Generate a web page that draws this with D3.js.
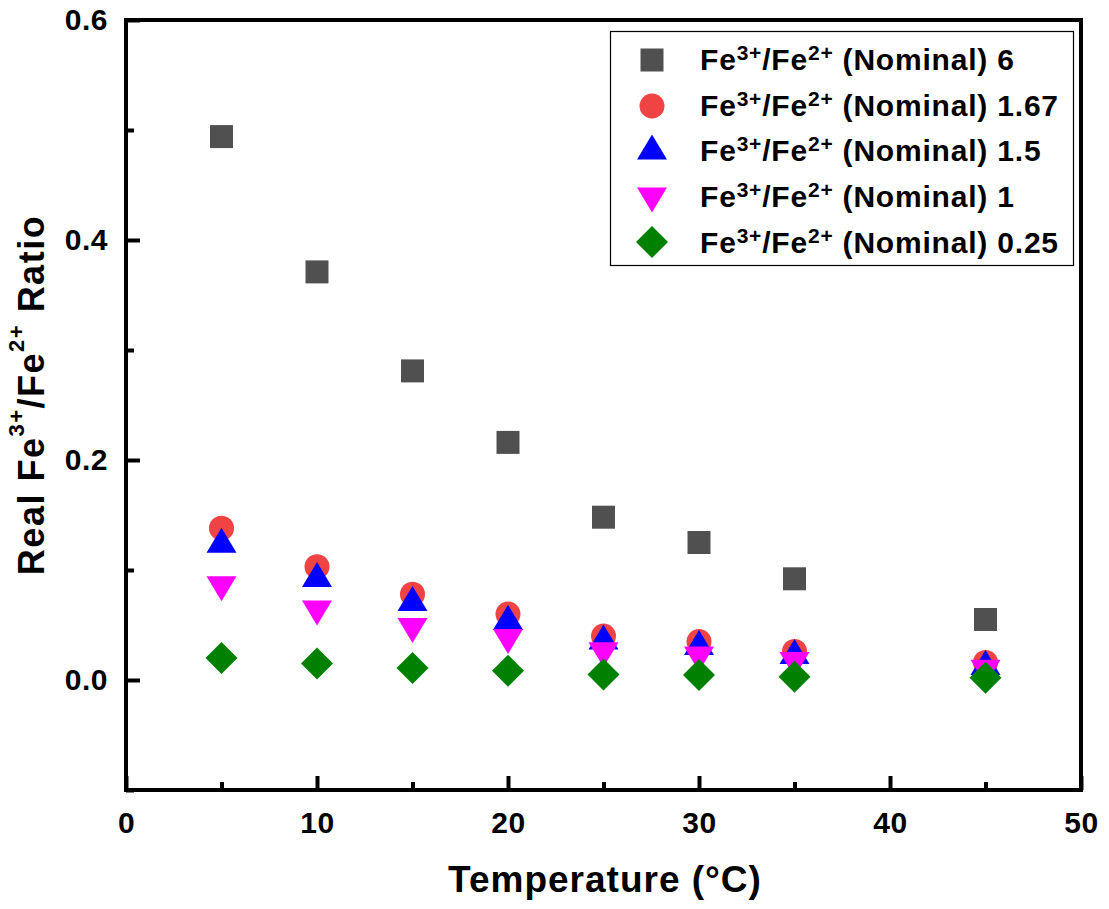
<!DOCTYPE html>
<html>
<head>
<meta charset="utf-8">
<script src="https://cdn.jsdelivr.net/npm/d3@7"></script>
<style>
  body { margin: 0; background: #fff; }
  text { font-family: "Liberation Sans", Arial, sans-serif; font-weight: bold; }
</style>
</head>
<body>
<svg id="chart"></svg>
<script>
// temperatures (°C)
var temps = [5, 10, 15, 20, 25, 30, 35, 45];

// real Fe3+/Fe2+ ratio, one array per nominal ratio
var nominal6    = [0.494, 0.371, 0.281, 0.216, 0.148, 0.125, 0.092, 0.055];
var nominal167  = [0.138, 0.103, 0.078, 0.060, 0.040, 0.035, 0.026, 0.016];
var nominal15   = [0.127, 0.096, 0.074, 0.057, 0.039, 0.034, 0.026, 0.016];
var nominal1    = [0.083, 0.061, 0.045, 0.035, 0.023, 0.019, 0.014, 0.007];
var nominal025  = [0.020, 0.015, 0.011, 0.0085, 0.005, 0.0045, 0.003, 0.002];

var legendNames = ["6", "1.67", "1.5", "1", "0.25"];

var xTicks = [0, 10, 20, 30, 40, 50];
var xMinor = [5, 15, 25, 35, 45];
var yTicks = [0.0, 0.2, 0.4, 0.6];
var yMinor = [-0.1, 0.1, 0.3, 0.5];

var screen = {width: 1109, height: 909};
var svg = d3.select("#chart")
  .attr("width", screen.width)
  .attr("height", screen.height);

var x = d3.scaleLinear().domain([0, 50]).range([126, 1081]);
var y = d3.scaleLinear().domain([-0.1, 0.6]).range([790, 20]);

// marker shapes, centred on bounding box
var shapes = {
  square: function(s) { var h = s / 2; return "M" + (-h) + "," + (-h) + "h" + s + "v" + s + "h" + (-s) + "Z"; },
  circle: function(s) { var r = s / 2; return "M" + (-r) + ",0a" + r + "," + r + " 0 1,0 " + s + ",0a" + r + "," + r + " 0 1,0 " + (-s) + ",0Z"; },
  up: function(s) { var w = s * 1.2 / 2, h = s / 2; return "M0," + (-h) + "L" + w + "," + h + "L" + (-w) + "," + h + "Z"; },
  down: function(s) { var w = s * 1.2 / 2, h = s / 2; return "M0," + h + "L" + w + "," + (-h) + "L" + (-w) + "," + (-h) + "Z"; },
  diamond: function(s) { var h = s / 2; return "M0," + (-h) + "L" + h + ",0L0," + h + "L" + (-h) + ",0Z"; }
};

var series = [
  {vals: nominal6,   shape: "square",  size: 23, color: "#505050"},
  {vals: nominal167, shape: "circle",  size: 25, color: "#F04343"},
  {vals: nominal15,  shape: "up",      size: 25, color: "#0000FF"},
  {vals: nominal1,   shape: "down",    size: 25, color: "#FF00FF"},
  {vals: nominal025, shape: "diamond", size: 32, color: "#008000"}
];

// ticks (inward)
var gx = svg.append("g").attr("transform", "translate(0," + y(-0.1) + ")");
gx.call(d3.axisBottom(x).tickValues(xTicks).tickSize(-14).tickFormat(d3.format("d")));
gx.append("g").call(d3.axisBottom(x).tickValues(xMinor).tickSize(-8).tickFormat(""));
gx.selectAll(".domain").remove();
gx.selectAll("line").attr("stroke", "#000").attr("stroke-width", 4);
gx.selectAll("text").attr("fill", "#000").style("font-size", "30px").style("letter-spacing", "0.5px")
  .attr("y", 43).attr("dy", 0);

var gy = svg.append("g").attr("transform", "translate(" + x(0) + ",0)");
gy.call(d3.axisLeft(y).tickValues(yTicks).tickSize(-14).tickFormat(d3.format(".1f")));
gy.append("g").call(d3.axisLeft(y).tickValues(yMinor).tickSize(-8).tickFormat(""));
gy.selectAll(".domain").remove();
gy.selectAll("line").attr("stroke", "#000").attr("stroke-width", 4);
gy.selectAll("text").attr("fill", "#000").style("font-size", "30px").style("letter-spacing", "0.5px").attr("x", -18);

// frame
svg.append("rect")
  .attr("x", x(0)).attr("y", y(0.6))
  .attr("width", x(50) - x(0)).attr("height", y(-0.1) - y(0.6))
  .attr("fill", "none").attr("stroke", "#000").attr("stroke-width", 4);

// points
series.forEach(function(s) {
  svg.append("g").selectAll("path")
    .data(s.vals)
    .enter().append("path")
    .attr("transform", function(d, i) { return "translate(" + x(temps[i]) + "," + y(d) + ")"; })
    .attr("d", shapes[s.shape](s.size))
    .attr("fill", s.color);
});

// legend
var leg = svg.append("g");
leg.append("rect")
  .attr("x", 610.5).attr("y", 31.5).attr("width", 463).attr("height", 234)
  .attr("fill", "#fff").attr("stroke", "#000").attr("stroke-width", 1.2);
var symY = [60, 106, 147, 200, 242];
var textY = [70, 116, 161, 207, 253];
series.forEach(function(s, i) {
  leg.append("path")
    .attr("transform", "translate(652," + symY[i] + ")")
    .attr("d", shapes[s.shape](s.size))
    .attr("fill", s.color);
  var t = leg.append("text")
    .attr("x", 700).attr("y", textY[i])
    .style("font-size", "30px").style("letter-spacing", "0.8px").attr("fill", "#000");
  t.append("tspan").text("Fe");
  t.append("tspan").text("3+").attr("dy", -10).style("font-size", "21px");
  t.append("tspan").text("/Fe").attr("dy", 10);
  t.append("tspan").text("2+").attr("dy", -10).style("font-size", "21px");
  t.append("tspan").text(" (Nominal) " + legendNames[i]).attr("dy", 10);
});

// axis titles
svg.append("text")
  .attr("x", 605).attr("y", 892)
  .attr("text-anchor", "middle")
  .style("font-size", "37px").style("letter-spacing", "1px").attr("fill", "#000")
  .text("Temperature (°C)");

var yt = svg.append("text")
  .attr("transform", "translate(44,395) rotate(-90)")
  .attr("text-anchor", "middle")
  .style("font-size", "36px").style("letter-spacing", "1.5px").attr("fill", "#000");
yt.append("tspan").text("Real Fe");
yt.append("tspan").text("3+").attr("dy", -20).style("font-size", "22px");
yt.append("tspan").text("/Fe").attr("dy", 20);
yt.append("tspan").text("2+").attr("dy", -20).style("font-size", "22px");
yt.append("tspan").text(" Ratio").attr("dy", 20);
</script>
</body>
</html>
